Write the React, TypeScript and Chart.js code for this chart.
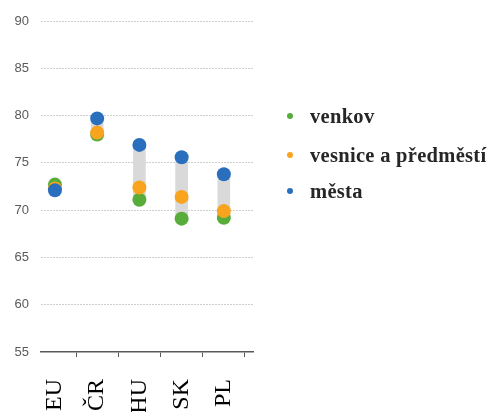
import React, { useEffect, useRef } from "react";
import { Chart, registerables } from "chart.js";

Chart.register(...registerables);

const CATEGORIES = ["EU", "ČR", "HU", "SK", "PL"];
const VENKOV = [72.7, 78.0, 71.1, 69.1, 69.2];
const VESNICE = [72.3, 78.2, 72.4, 71.4, 69.9];
const MESTA = [72.1, 79.7, 76.9, 75.6, 73.8];
const Y_TICKS = [55, 60, 65, 70, 75, 80, 85, 90];

const SERIES = [
  { label: "venkov", data: VENKOV, color: "#58ad3a" },
  { label: "vesnice a předměstí", data: VESNICE, color: "#f9a41e" },
  { label: "města", data: MESTA, color: "#2a6fbd" },
];

export default function App() {
  const canvasRef = useRef<HTMLCanvasElement | null>(null);

  useEffect(() => {
    document.body.style.margin = "0";
    const canvas = canvasRef.current;
    if (!canvas) return;

    // high-low range for each country, spanning all three series
    const ranges = CATEGORIES.map((_, i) => {
      const vals = SERIES.map((s) => s.data[i]);
      return { x: i, y: [Math.min(...vals), Math.max(...vals)] };
    });

    const chart = new Chart(canvas, {
      data: {
        datasets: [
          {
            type: "bar",
            label: "range",
            data: ranges as any,
            backgroundColor: "#d9d9d9",
            barThickness: 12,
            order: 10,
          },
          ...SERIES.map((s, k) => ({
            type: "scatter" as const,
            label: s.label,
            data: s.data.map((v, i) => ({ x: i, y: v })),
            backgroundColor: s.color,
            borderColor: s.color,
            pointRadius: 7,
            pointHoverRadius: 7,
            borderWidth: 0,
            showLine: false,
            order: 3 - k,
          })),
        ],
      },
      options: {
        animation: false,
        responsive: false,
        maintainAspectRatio: false,
        layout: { padding: { top: 21, right: 239, left: 0, bottom: 0 } },
        plugins: { legend: { display: false }, tooltip: { enabled: false } },
        scales: {
          x: {
            type: "linear",
            offset: false,
            min: -0.33,
            max: 4.69,
            afterFit: (scale: any) => {
              scale.height = 60;
            },
            afterBuildTicks: (scale: any) => {
              scale.ticks = CATEGORIES.map((_, i) => ({ value: i }));
            },
            ticks: {
              callback: (v: any) => CATEGORIES[v as number] ?? "",
              maxRotation: 90,
              minRotation: 90,
              autoSkip: false,
              padding: 22,
              color: "#000000",
              font: { family: "'Liberation Serif', 'Times New Roman', serif", size: 24 },
            },
            grid: {
              drawOnChartArea: false,
              drawTicks: true,
              tickLength: 5,
              color: "#595959",
            },
            border: { display: true, color: "#595959", width: 1.5 },
          },
          y: {
            min: 55,
            max: 90,
            afterFit: (scale: any) => {
              scale.width = 41;
            },
            afterBuildTicks: (scale: any) => {
              scale.ticks = Y_TICKS.map((v) => ({ value: v }));
            },
            ticks: {
              padding: 12,
              color: "#595959",
              font: { family: "'Liberation Sans', Arial, sans-serif", size: 13 },
            },
            grid: {
              drawTicks: false,
              color: (ctx: any) => (ctx.tick && ctx.tick.value === 55 ? "rgba(0,0,0,0)" : "#cfcfcf"),
              lineWidth: 1,
            },
            border: { display: false, dash: [2, 1] },
          },
        },
      } as any,
    });

    return () => chart.destroy();
  }, []);

  const legendTops = [116, 155, 191];

  return (
    <div style={{ position: "relative", width: 492, height: 412, overflow: "hidden", background: "#ffffff" }}>
      <canvas ref={canvasRef} width={492} height={412} style={{ display: "block" }} />
      {SERIES.map((s, i) => (
        <div
          key={s.label}
          style={{
            position: "absolute",
            left: 287,
            top: legendTops[i] - 12,
            height: 24,
            display: "flex",
            alignItems: "center",
            whiteSpace: "nowrap",
          }}
        >
          <span
            style={{
              display: "inline-block",
              width: 6,
              height: 6,
              borderRadius: 3,
              background: s.color,
              marginRight: 17,
            }}
          />
          <span
            style={{
              fontFamily: "'Liberation Serif', 'Times New Roman', serif",
              fontWeight: "bold",
              fontSize: 20.5,
              letterSpacing: 0.3,
              color: "#262626",
            }}
          >
            {s.label}
          </span>
        </div>
      ))}
    </div>
  );
}
